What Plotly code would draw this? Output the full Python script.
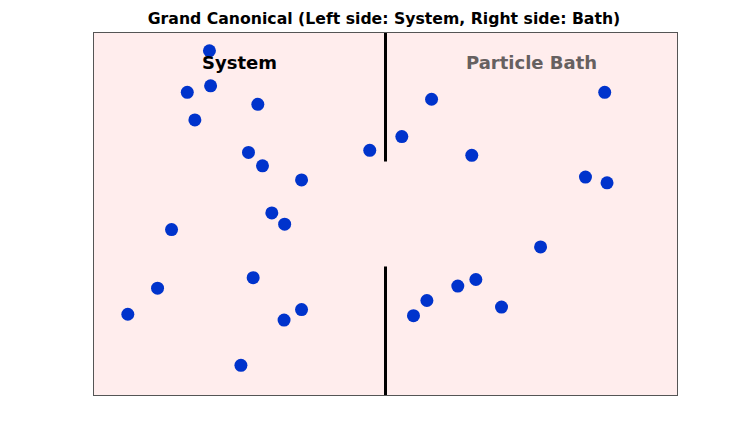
import plotly.graph_objects as go

# particle positions (box is 10 x 10, wall at x=5)
system_x = [1.98, 2.00, 1.60, 2.81, 1.73, 2.65, 2.89, 3.56, 4.73, 3.05, 3.27, 1.33,
            2.73, 1.09, 0.58, 3.56, 3.26, 2.52]
system_y = [9.51, 8.54, 8.36, 8.03, 7.60, 6.70, 6.33, 5.94, 6.76, 5.03, 4.72, 4.57,
            3.24, 2.95, 2.23, 2.36, 2.07, 0.82]

bath_x = [5.79, 5.28, 6.48, 8.76, 8.43, 8.80, 7.66, 6.55, 6.24, 5.71, 5.48, 6.99]
bath_y = [8.17, 7.14, 6.62, 8.36, 6.02, 5.86, 4.09, 3.19, 3.01, 2.61, 2.19, 2.43]

# wall with an opening in the middle
wall_x = 5
wall_lower = [0, 3.55]
wall_upper = [6.45, 10]

labels = ["System", "Particle Bath"]
label_x = [2.5, 7.5]
label_y = [9.19, 9.19]

fig = go.Figure()

for seg in (wall_lower, wall_upper):
    fig.add_trace(go.Scatter(x=[wall_x, wall_x], y=seg, mode="lines",
                             line=dict(color="black", width=3),
                             showlegend=False, hoverinfo="skip"))

fig.add_trace(go.Scatter(x=system_x + bath_x, y=system_y + bath_y, mode="markers",
                         marker=dict(color="#0033cc", size=13),
                         showlegend=False))

fig.add_annotation(x=label_x[0], y=label_y[0], text="<b>" + labels[0] + "</b>",
                   showarrow=False, font=dict(family="DejaVu Sans", size=18, color="black"))
fig.add_annotation(x=label_x[1], y=label_y[1], text="<b>" + labels[1] + "</b>",
                   showarrow=False, font=dict(family="DejaVu Sans", size=18, color="#666060"))

fig.update_xaxes(range=[0, 10], showticklabels=False, showgrid=False, zeroline=False,
                 showline=True, mirror=True, linecolor="#555555", linewidth=1, ticks="")
fig.update_yaxes(range=[0, 10], showticklabels=False, showgrid=False, zeroline=False,
                 showline=True, mirror=True, linecolor="#555555", linewidth=1, ticks="")

# page body adds an 8px offset, margins account for it
fig.update_layout(
    width=752, height=423,
    margin=dict(l=86, r=83, t=25, b=36),
    paper_bgcolor="white",
    plot_bgcolor="#ffeded",
    title=dict(text="<b>Grand Canonical (Left side: System, Right side: Bath)</b>",
               x=0.5, xanchor="center", y=1 - 11 / 423, yanchor="middle",
               font=dict(family="DejaVu Sans", size=15.7, color="black")),
)

fig.write_html("out.html")
